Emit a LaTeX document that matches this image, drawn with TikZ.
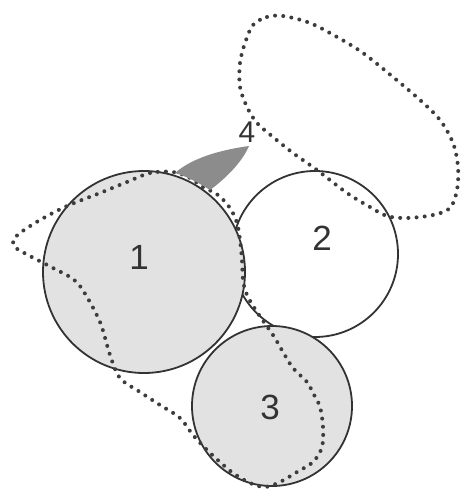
\documentclass[tikz,border=0pt]{standalone}
\usepackage{fontspec}
\setmainfont{Liberation Sans}
\definecolor{edge}{HTML}{333333}
\definecolor{lightfill}{HTML}{E2E2E2}
\definecolor{dotcol}{HTML}{3C3C3C}
\definecolor{leaf}{HTML}{8C8C8C}
\begin{document}
\begin{tikzpicture}[x=1pt,y=-1pt,
  disc/.style={circle, draw=edge, line width=1.8pt, inner sep=0pt, outer sep=0pt},
  dotline/.style={draw=dotcol, line width=4pt, line cap=round, dash pattern=on 0pt off 8.2pt},
  biglabel/.style={font=\fontsize{35}{35}\selectfont, text=edge, inner sep=0pt},
  smalllabel/.style={font=\fontsize{30}{30}\selectfont, text=edge, inner sep=0pt}]
\useasboundingbox (0,0) rectangle (461,490);
\fill[white] (0,0) rectangle (461,490);
% circles
\node[disc, fill=white, minimum size=166pt] (c2) at (315,254) {};
\node[disc, fill=lightfill, minimum size=202pt] (c1) at (144,272) {};
\node[disc, fill=lightfill, minimum size=160pt] (c3) at (272,406) {};
% upper dotted loop
\path[dotline] plot[smooth cycle, tension=0.55] coordinates {
 (253,25) (267,17) (283,16) (310,23) (337,37) (363,53) (393,77) (420,100)
 (440,120) (453,143) (458,167) (457,190) (450,208) (433,215) (407,218)
 (387,216) (370,207) (347,193) (317,170) (293,153) (273,137) (257,123)
 (247,107) (240,87) (240,63) (245,43)};
% main dotted loop
\path[dotline] plot[smooth cycle, tension=0.55] coordinates {
 (173,172) (150,173) (127,182) (100,193) (67,206) (40,220) (20,233) (13,241)
 (16,248) (28,255) (53,268) (73,279) (84,292) (100,322) (110,355) (120,378)
 (140,392) (160,405) (180,418) (193,435) (207,450) (220,462) (233,473)
 (250,483) (265,487) (280,482) (297,472) (313,462) (322,447) (323,427)
 (320,407) (313,393) (307,382) (293,368) (283,352) (273,335) (257,312)
 (247,295) (243,280) (242,260) (240,240) (237,223) (230,208) (218,195)
 (203,187) (190,178)};
% leaf-shaped region 4
\fill[leaf] (175,173) .. controls (192,158) and (220,150) .. (249,146)
  .. controls (243,160) and (229,176) .. (210,190)
  .. controls (199,183) and (188,177) .. (175,173) -- cycle;
% labels
\node[biglabel] (t1) at (139,257) {1};
\node[biglabel] (t2) at (322,238) {2};
\node[biglabel] (t3) at (270,407) {3};
\node[smalllabel] (t4) at (247,132) {4};
\end{tikzpicture}
\end{document}
